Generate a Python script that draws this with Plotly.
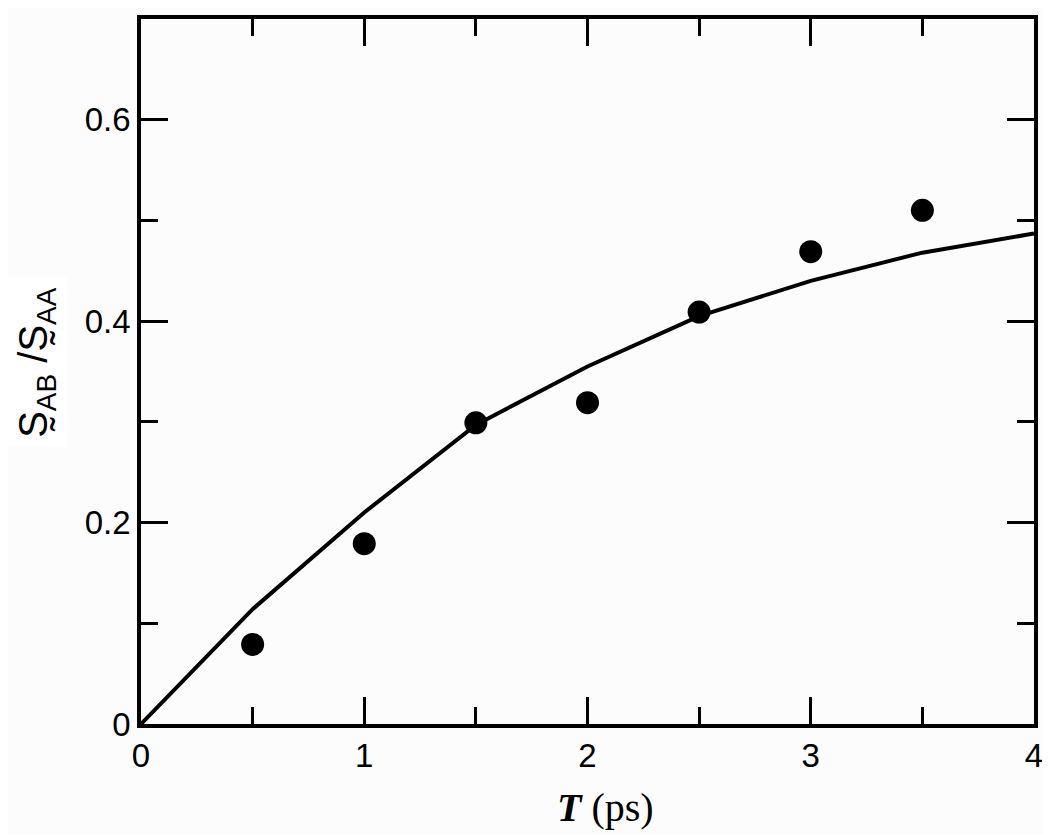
import plotly.graph_objects as go

# Data
t_points = [0.5, 1.0, 1.5, 2.0, 2.5, 3.0, 3.5]
ratio_points = [0.079, 0.179, 0.299, 0.319, 0.409, 0.469, 0.510]

t_line = [0, 0.5, 1.0, 1.5, 2.0, 2.5, 3.0, 3.5, 4.0]
ratio_line = [0, 0.114, 0.210, 0.297, 0.355, 0.405, 0.440, 0.468, 0.487]

x_ticks = [0, 1, 2, 3, 4]
y_ticks = [0, 0.2, 0.4, 0.6]
y_tick_text = ["0", "0.2", "0.4", "0.6"]

fig = go.Figure()
fig.add_trace(go.Scatter(x=t_line, y=ratio_line, mode="lines",
                         line=dict(color="black", width=4), showlegend=False))
fig.add_trace(go.Scatter(x=t_points, y=ratio_points, mode="markers",
                         marker=dict(color="black", size=23), showlegend=False))

axis_common = dict(
    showline=True, linecolor="black", linewidth=3.5, mirror="ticks",
    ticks="inside", tickwidth=3, tickcolor="black", ticklen=27,
    showgrid=False, zeroline=False, automargin=False,
    tickfont=dict(family="Liberation Sans, Arial, sans-serif", size=33, color="black"),
)

fig.update_xaxes(range=[0, 4], tickvals=x_ticks, ticktext=[str(v) for v in x_ticks],
                 minor=dict(dtick=0.5, ticks="inside", ticklen=17, tickwidth=3,
                            tickcolor="black", showgrid=False),
                 **axis_common)
fig.update_yaxes(range=[0, 0.7], tickvals=y_ticks, ticktext=y_tick_text,
                 minor=dict(dtick=0.1, ticks="inside", ticklen=17, tickwidth=3,
                            tickcolor="black", showgrid=False),
                 **axis_common)

# white box behind the y label (as in the reference)
fig.add_shape(type="rect", xref="paper", yref="paper",
              x0=-0.150, x1=-0.083, y0=0.393, y1=0.633,
              fillcolor="white", line=dict(width=0), layer="below")

fig.add_annotation(text="<b><i>T</i></b> (ps)", xref="paper", yref="paper",
                   x=0.5196, y=-0.119, xanchor="center", yanchor="middle",
                   showarrow=False,
                   font=dict(family="Liberation Serif, Times New Roman, serif", size=40, color="black"))
fig.add_annotation(text="S\u0330<sub>AB</sub> /S\u0330<sub>AA</sub>", xref="paper", yref="paper",
                   x=-0.117, y=0.513, xanchor="center", yanchor="middle",
                   textangle=-90, showarrow=False,
                   font=dict(family="Liberation Sans, Arial, sans-serif", size=40, color="black"))

fig.update_layout(
    width=1042, height=826,
    margin=dict(l=133, r=16, t=11, b=110),
    paper_bgcolor="#fcfcfc", plot_bgcolor="#fcfcfc",
)

fig.write_html("out.html")
